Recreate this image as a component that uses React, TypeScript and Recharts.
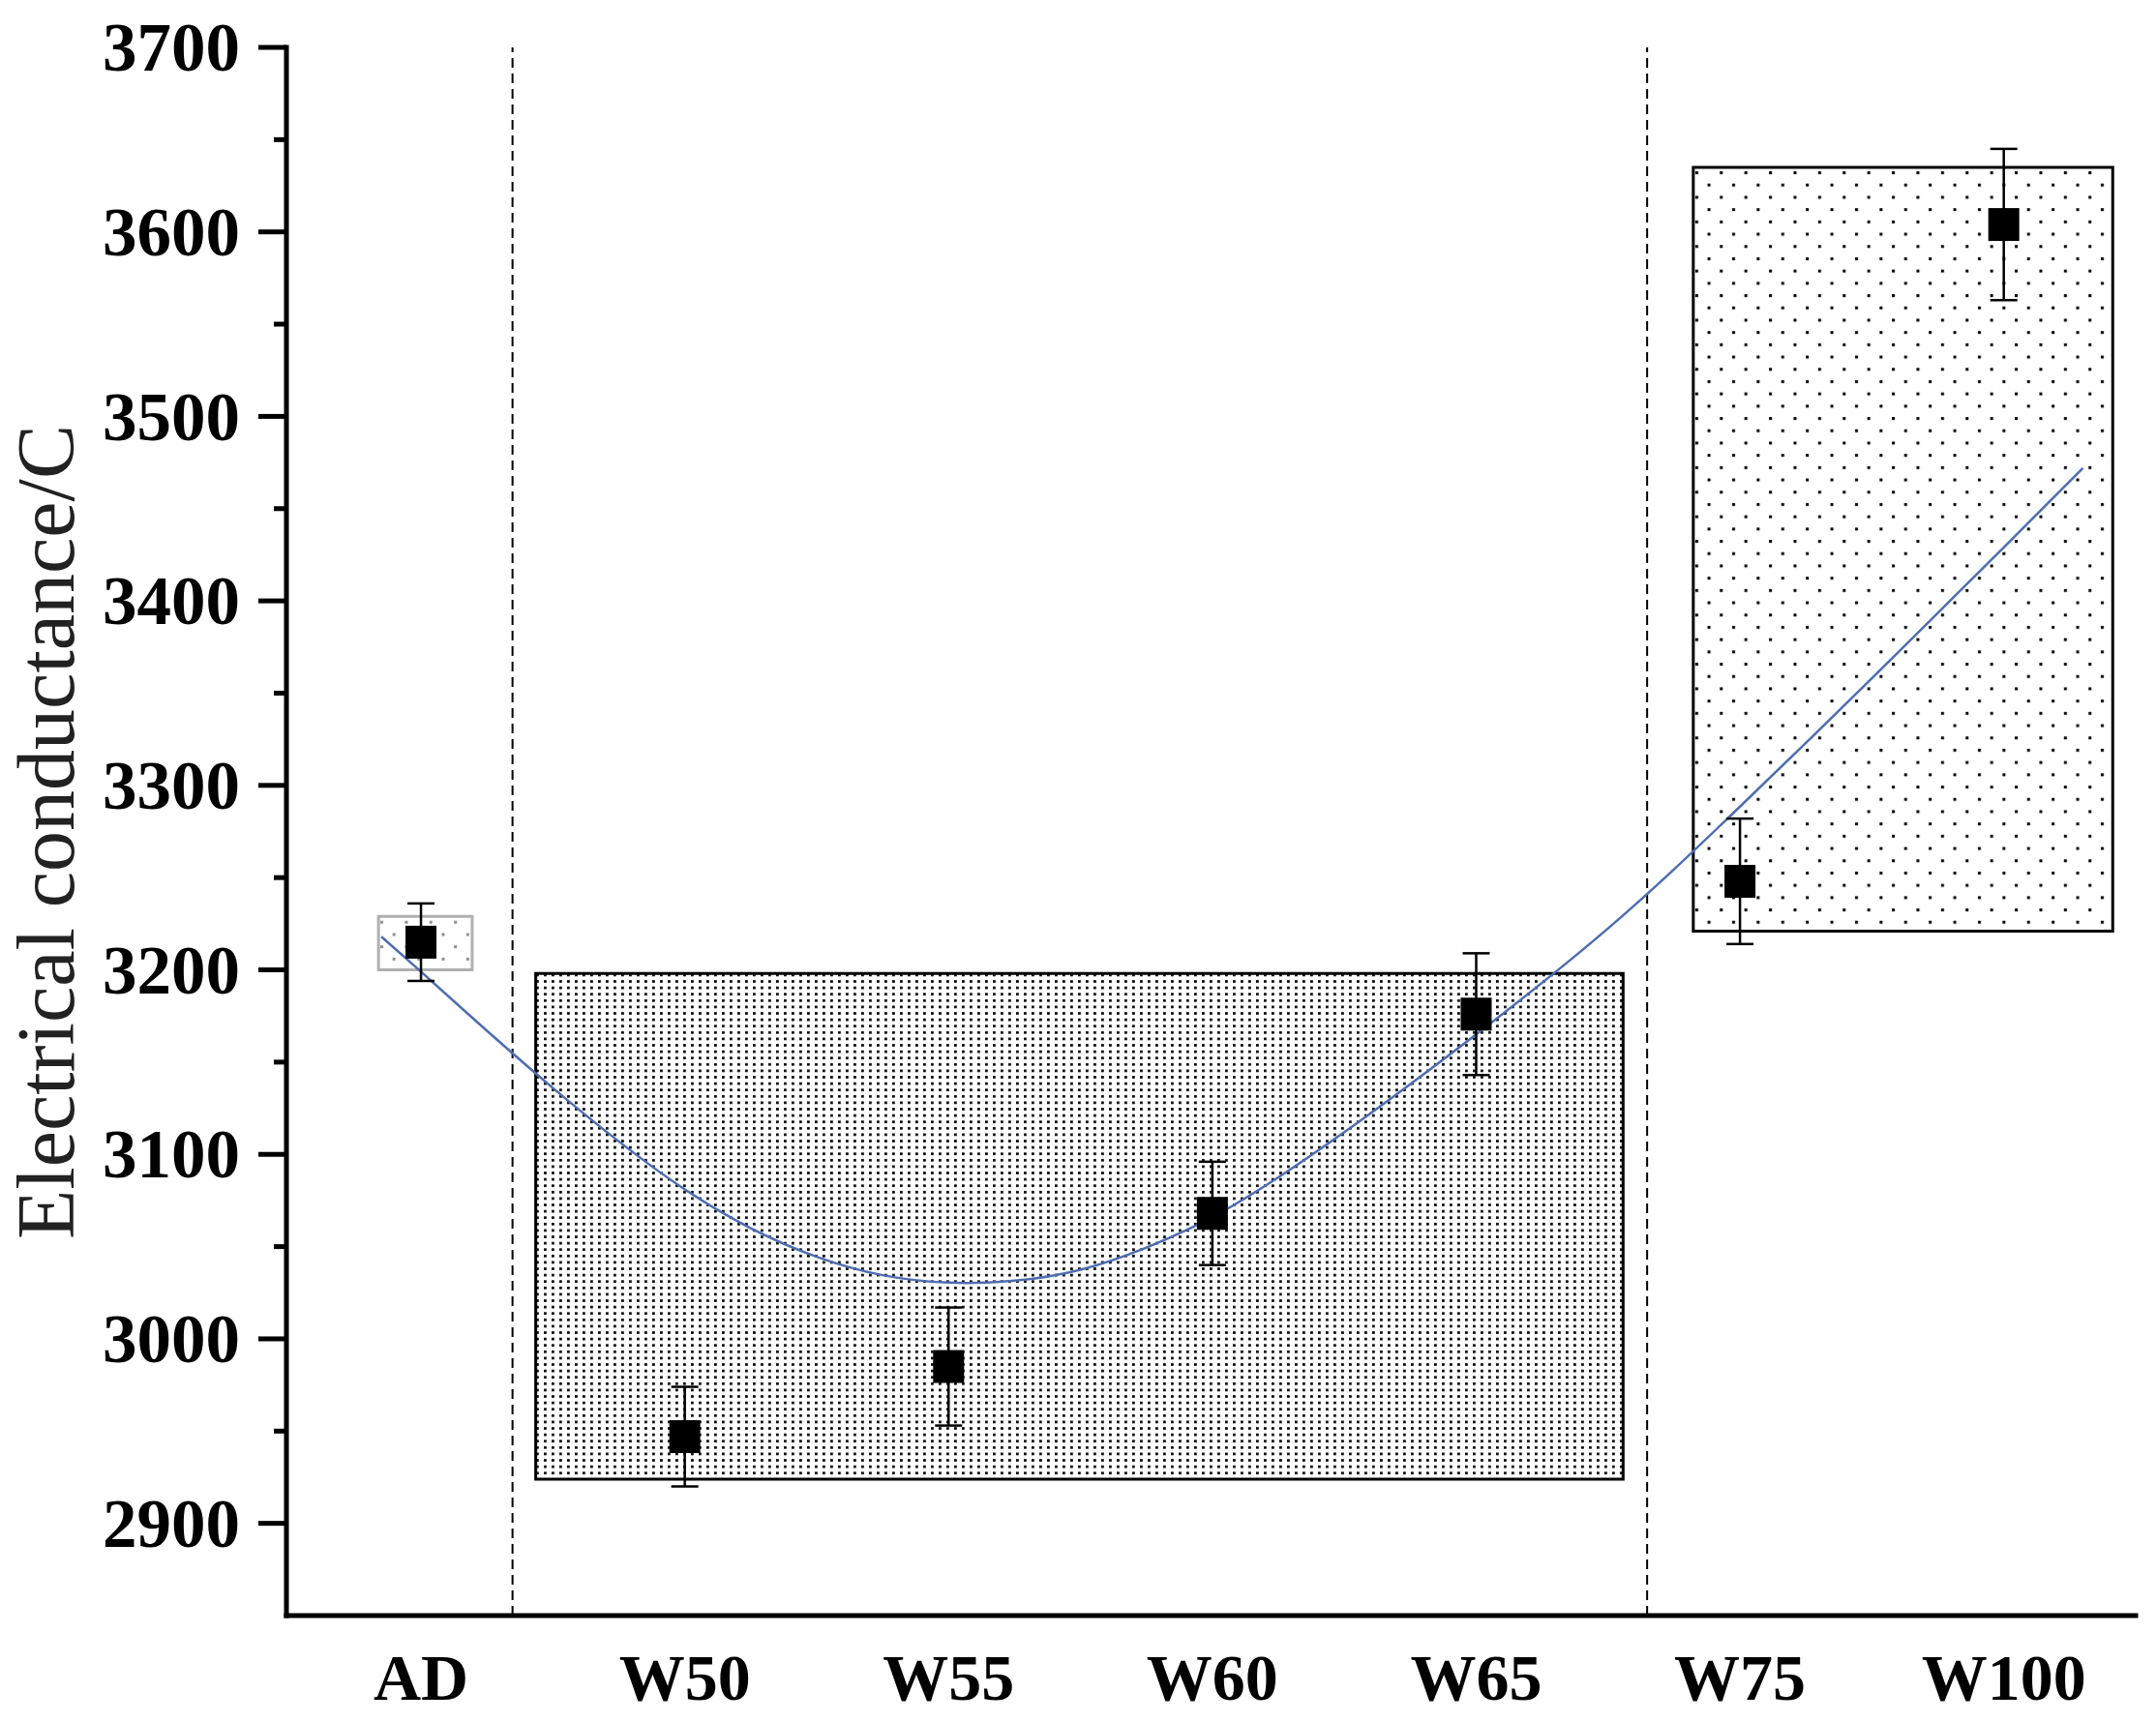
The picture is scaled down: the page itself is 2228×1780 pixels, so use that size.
import React from "react";
import {
  ComposedChart,
  XAxis,
  YAxis,
  Scatter,
  Line,
  ErrorBar,
  ReferenceArea,
  ReferenceLine,
} from "recharts";

// measured samples
const categories = ["AD", "W50", "W55", "W60", "W65", "W75", "W100"];
const conductance = [3215, 2947, 2985, 3068, 3176, 3248, 3604];
const conductanceErr = [21, 27, 32, 28, 33, 34, 41];

// fitted curve (x in category-index units)
const fitX = [-0.15, 0, 0.25, 0.5, 0.75, 1, 1.25, 1.5, 1.75, 2, 2.25, 2.5, 2.75, 3, 3.25, 3.5, 3.75, 4, 4.25, 4.5, 4.75, 5, 5.25, 5.5, 5.75, 6, 6.3];
const fitY = [3218, 3199, 3167, 3136, 3107, 3081, 3060, 3044.5, 3034.5, 3030.5, 3031.5, 3037.5, 3049.5, 3066, 3087.5, 3112, 3138, 3165, 3193, 3222.5, 3254.5, 3288.5, 3323, 3358, 3393.5, 3429, 3472];

// shaded groups
const bandStart = [-0.161, 0.435, 4.823];
const bandEnd = [0.194, 4.557, 6.413];
const bandLow = [3200, 2924, 3221];
const bandHigh = [3229, 3198, 3635];

// dashed group separators
const dividers = [0.347, 4.648];

const yTicks = [2900, 2950, 3000, 3050, 3100, 3150, 3200, 3250, 3300, 3350, 3400, 3450, 3500, 3550, 3600, 3650, 3700];
const xTicks = [0, 1, 2, 3, 4, 5, 6];

const points = categories.map((c, i) => ({ x: i, y: conductance[i], err: conductanceErr[i] }));
const fitData = fitX.map((x, i) => ({ x, y: fitY[i] }));

const bandStyles = [
  { fill: "url(#dotsGray)", stroke: "#b0b0b0" },
  { fill: "url(#dotsDense)", stroke: "#000" },
  { fill: "url(#dotsSparse)", stroke: "#000" },
];

const xDomain = [-0.51, 6.5];
const yDomain = [2850, 3700];

const serif = '"Liberation Serif", "Times New Roman", serif';
const frame = { stroke: "#000", strokeWidth: 5, strokeLinecap: "square" as const };

const YTick = (props: any) => {
  const { x, y, payload } = props;
  const major = payload.value % 100 === 0;
  return (
    <g>
      <line x1={x - (major ? 29 : 13)} x2={x} y1={y} y2={y} stroke="#000" strokeWidth={5} />
      {major && (
        <text x={x - 48} y={y} dy="0.34em" textAnchor="end" fontFamily={serif} fontWeight="bold" fontSize={71} fill="#000">
          {payload.value}
        </text>
      )}
    </g>
  );
};

const XTick = (props: any) => {
  const { x, y, payload } = props;
  return (
    <text x={x} y={y + 87} textAnchor="middle" fontFamily={serif} fontWeight="bold" fontSize={68} fill="#000">
      {categories[payload.value]}
    </text>
  );
};

const Square = (props: any) => (
  <rect x={props.cx - 16} y={props.cy - 17} width={32} height={34} fill="#000" />
);

export default function App() {
  return (
    <div style={{ width: 2212, height: 1764, position: "relative" }}>
      <ComposedChart width={2212} height={1764} margin={{ top: 41, right: 13, left: 0, bottom: 0 }}>
        <defs>
          <pattern id="dotsDense" patternUnits="userSpaceOnUse" width={8} height={6.6}>
            <rect x={2} y={2} width={2.8} height={2.6} fill="#000" />
          </pattern>
          <pattern id="dotsSparse" patternUnits="userSpaceOnUse" width={25.4} height={25.4}>
            <rect x={4} y={4} width={3} height={3} fill="#000" />
            <rect x={16.7} y={16.7} width={3} height={3} fill="#000" />
          </pattern>
          <pattern id="dotsGray" patternUnits="userSpaceOnUse" width={25.4} height={25.4}>
            <rect x={4} y={4} width={3} height={3} fill="#8a8a8a" />
            <rect x={16.7} y={16.7} width={3} height={3} fill="#8a8a8a" />
          </pattern>
        </defs>
        <XAxis
          dataKey="x"
          type="number"
          domain={xDomain}
          allowDataOverflow
          ticks={xTicks}
          interval={0}
          height={102}
          tickSize={0}
          tickMargin={0}
          tickLine={false}
          axisLine={frame}
          tick={<XTick />}
        />
        <XAxis
          xAxisId="top"
          orientation="top"
          type="number"
          domain={xDomain}
          height={0}
          tick={false}
          tickLine={false}
          axisLine={frame}
        />
        <YAxis
          dataKey="y"
          type="number"
          domain={yDomain}
          allowDataOverflow
          ticks={yTicks}
          interval={0}
          width={288}
          tickSize={0}
          tickMargin={0}
          tickLine={false}
          axisLine={frame}
          tick={<YTick />}
        />
        <YAxis
          yAxisId="right"
          orientation="right"
          type="number"
          domain={yDomain}
          width={0}
          tick={false}
          tickLine={false}
          axisLine={frame}
        />
        {bandStart.map((s, i) => (
          <ReferenceArea
            key={`band-${i}`}
            x1={s}
            x2={bandEnd[i]}
            y1={bandLow[i]}
            y2={bandHigh[i]}
            fill={bandStyles[i].fill}
            fillOpacity={1}
            stroke={bandStyles[i].stroke}
            strokeWidth={3}
          />
        ))}
        {dividers.map((d) => (
          <ReferenceLine key={`div-${d}`} x={d} stroke="#000" strokeWidth={2} strokeDasharray="10 6" />
        ))}
        <Line
          data={fitData}
          dataKey="y"
          type="natural"
          stroke="#4e6db0"
          strokeWidth={2.5}
          dot={false}
          activeDot={false}
          isAnimationActive={false}
        />
        <Scatter data={points} dataKey="y" shape={<Square />} isAnimationActive={false}>
          <ErrorBar dataKey="err" direction="y" width={14} stroke="#000" strokeWidth={2.5} />
        </Scatter>
      </ComposedChart>
      <svg width={140} height={1764} style={{ position: "absolute", left: -8, top: 0, pointerEvents: "none" }}>
        <text
          transform="translate(76, 852) rotate(-90)"
          textAnchor="middle"
          fontFamily={serif}
          fontSize={84}
          fill="#222"
        >
          Electrical conductance/C
        </text>
      </svg>
    </div>
  );
}
